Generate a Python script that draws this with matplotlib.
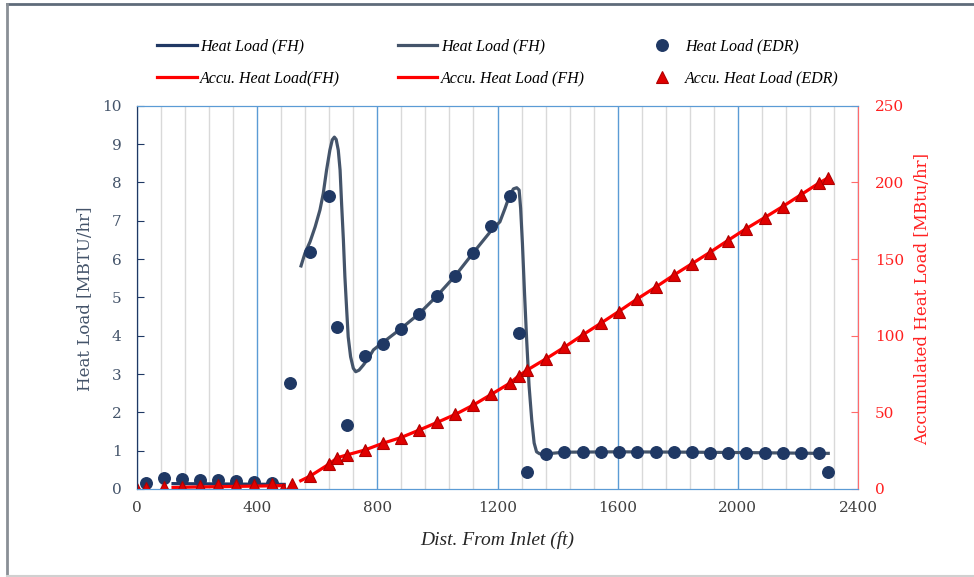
import matplotlib
matplotlib.use('Agg')
import matplotlib.pyplot as plt
from matplotlib.lines import Line2D

# EDR points (primary axis, circles)
edr_x = [30, 90, 150, 210, 270, 330, 390, 450, 510, 577, 638, 667, 698, 758, 818, 878, 940,
         1000, 1060, 1120, 1180, 1240, 1270, 1299, 1362, 1421, 1483, 1543, 1603, 1663, 1726,
         1786, 1846, 1906, 1966, 2026, 2089, 2149, 2209, 2269, 2301]
edr_load = [0.16, 0.28, 0.26, 0.24, 0.23, 0.21, 0.19, 0.16, 2.76, 6.19, 7.65, 4.23, 1.67, 3.47,
            3.78, 4.17, 4.56, 5.04, 5.56, 6.17, 6.86, 7.65, 4.06, 0.45, 0.91, 0.96, 0.97, 0.97,
            0.97, 0.97, 0.97, 0.96, 0.96, 0.95, 0.95, 0.95, 0.93, 0.93, 0.93, 0.93, 0.45]

# EDR accumulated (secondary axis, triangles)
acc_x = [0, 30, 90, 150, 210, 270, 330, 390, 450, 485, 515, 577, 638, 667, 698, 758, 818, 878,
         940, 1000, 1060, 1120, 1180, 1240, 1270, 1299, 1362, 1421, 1483, 1543, 1603, 1663,
         1726, 1786, 1846, 1906, 1966, 2026, 2089, 2149, 2209, 2269, 2301]
acc_load = [0, 0.4, 1.0, 1.6, 1.9, 2.3, 2.6, 2.8, 3.2, 0.0, 3.0, 8.5, 16.1, 20.4, 22.2, 25.4,
            29.8, 33.5, 38.5, 43.5, 48.7, 54.8, 61.8, 68.9, 73.7, 77.6, 85.0, 92.3, 100.4,
            108.0, 115.7, 123.7, 131.6, 139.4, 146.8, 154.2, 162.0, 169.6, 177.0, 184.2,
            191.8, 199.4, 203.0]

# FH curves
fh1_x = [120, 300, 490]
fh1_load = [0.14, 0.13, 0.12]

fh2_x = [546, 559, 576, 593, 609, 620, 631, 642, 650, 657, 663, 670, 676, 681, 687, 692, 698,
         703, 711, 720, 728, 739, 753, 770, 787, 818, 878, 940, 1000, 1060, 1120, 1180, 1192,
         1208, 1225, 1239, 1253, 1264, 1272, 1277, 1283, 1290, 1297, 1305, 1314, 1322, 1330,
         1340, 1353, 1421, 1603, 1846, 2026, 2269, 2301]
fh2_load = [5.82, 6.15, 6.45, 6.84, 7.28, 7.71, 8.32, 8.84, 9.11, 9.18, 9.12, 8.84, 8.32, 7.45,
            6.50, 5.54, 4.67, 3.97, 3.45, 3.15, 3.06, 3.10, 3.23, 3.41, 3.63, 3.82, 4.18, 4.58,
            5.05, 5.57, 6.17, 6.75, 6.85, 6.97, 7.32, 7.63, 7.83, 7.86, 7.80, 7.32, 6.40, 5.10,
            3.90, 2.70, 1.80, 1.20, 0.97, 0.92, 0.91, 0.96, 0.97, 0.96, 0.95, 0.93, 0.93]

acc1_x = [120, 200, 300, 400, 490]
acc1_load = [1.0, 1.3, 1.6, 1.9, 2.2]

acc2_x = [545] + acc_x[11:]
acc2_load = [5.4] + acc_load[11:]

navy = '#1F3864'
slate = '#44546A'
red = '#FF0000'

fig = plt.figure(figsize=(9.74, 5.77), dpi=100)
ax = fig.add_axes([137 / 974, 1 - 489 / 577, 721 / 974, 383.3 / 577])

ax.set_xlim(0, 2400)
ax.set_ylim(0, 10)
ax.set_xticks(range(0, 2401, 400))
ax.set_xticks(range(0, 2401, 80), minor=True)
ax.set_yticks(range(0, 11))
ax.grid(True, which='minor', axis='x', color='#D9D9D9', lw=1)
ax.grid(True, which='major', axis='x', color='#5B9BD5', lw=1)
ax.set_axisbelow(True)

ax.plot(fh1_x, fh1_load, color='#203864', lw=2.3, label='Heat Load (FH)')
ax.plot(fh2_x, fh2_load, color=slate, lw=2.3, label='Heat Load (FH)')
ax.plot(edr_x, edr_load, 'o', color=navy, ms=8.3, mec=navy, label='Heat Load (EDR)')

ax2 = ax.twinx()
ax2.set_ylim(0, 250)
ax2.set_yticks(range(0, 251, 50))
ax2.plot(acc1_x, acc1_load, color=red, lw=2.3, label='Accu. Heat Load(FH)')
ax2.plot(acc2_x, acc2_load, color=red, lw=2.3, label='Accu. Heat Load (FH)')
ax2.plot(acc_x, acc_load, '^', color='#E00000', mec='#B00000', mew=0.8, ms=9,
         label='Accu. Heat Load (EDR)')

for a in (ax, ax2):
    a.spines['top'].set_color('#5B9BD5')
    a.spines['bottom'].set_color('#5B9BD5')
    a.spines['left'].set_color(navy)
    a.spines['right'].set_color('#FF6B6B')

ax.tick_params(axis='x', which='both', length=0, pad=9, labelcolor='#404040')
ax.tick_params(axis='y', direction='in', length=5, color=navy, pad=11, labelcolor=slate)
ax2.tick_params(axis='y', direction='in', length=5, color='#FF6B6B', pad=12,
                labelcolor='#FF2020')
for lab in ax.get_xticklabels() + ax.get_yticklabels() + ax2.get_yticklabels():
    lab.set_family('DejaVu Serif')
    lab.set_fontsize(11)

fig.text(85 / 974, 1 - 299 / 577, 'Heat Load [MBTU/hr]', rotation=90, ha='center', va='center',
         family='DejaVu Serif', fontsize=12, color=slate)
fig.text(923 / 974, 1 - 299 / 577, 'Accumulated Heat Load [MBtu/hr]', rotation=90, ha='center',
         va='center', family='DejaVu Serif', fontsize=12, color='#FF2020')
fig.text(497 / 974, 1 - 540 / 577, 'Dist. From Inlet (ft)', ha='center', va='center',
         family='Liberation Serif', style='italic', fontsize=14, color='#262626')

h1, l1 = ax.get_legend_handles_labels()
h2, l2 = ax2.get_legend_handles_labels()
handles = [h1[0], h2[0], h1[1], h2[1], h1[2], h2[2]]
labels = [l1[0], l2[0], l1[1], l2[1], l1[2], l2[2]]
fig.legend(handles, labels, ncol=3, loc='center', bbox_to_anchor=(498 / 974, 1 - 62.5 / 577),
           frameon=False, prop={'family': 'Liberation Serif', 'style': 'italic', 'size': 11.5},
           handlelength=2.5, handletextpad=0.2, columnspacing=3.6, labelspacing=1.0)

# outer frame
fig.add_artist(Line2D([7 / 974, 1], [1 - 4 / 577, 1 - 4 / 577], color='#5F6B7A', lw=2,
                      transform=fig.transFigure))
fig.add_artist(Line2D([7 / 974, 7 / 974], [1 - 576 / 577, 1 - 4 / 577], color='#8A8F96', lw=2,
                      transform=fig.transFigure))
fig.add_artist(Line2D([7 / 974, 1], [1 - 576 / 577, 1 - 576 / 577], color='#D0D0D0', lw=1.5,
                      transform=fig.transFigure))

fig.savefig('out.png', dpi=100)
